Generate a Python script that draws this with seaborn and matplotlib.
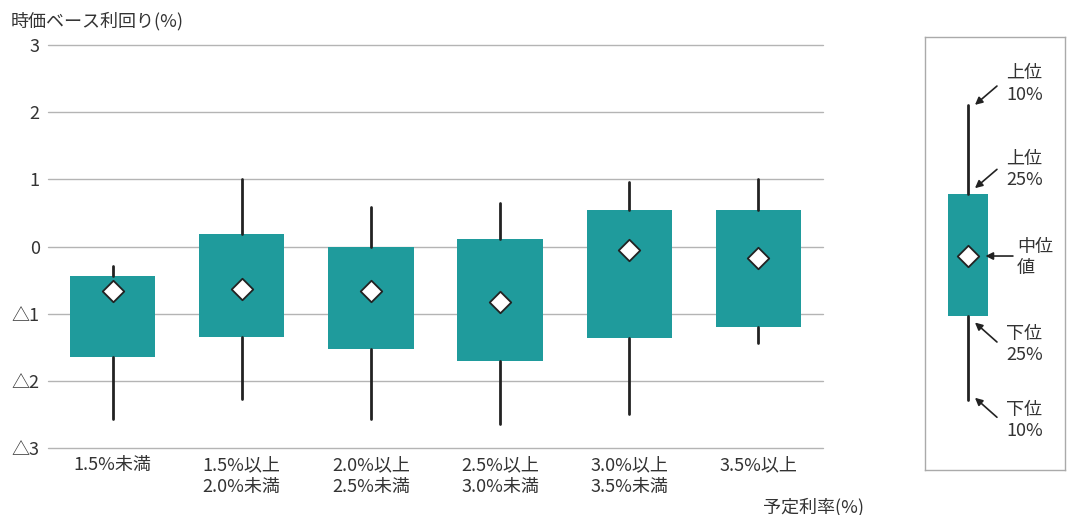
import numpy as np
import matplotlib
matplotlib.use("Agg")
import matplotlib.pyplot as plt
import seaborn as sns

# Yield distribution by assumed interest rate band
categories = ["1.5%未満", "1.5%以上\n2.0%未満", "2.0%以上\n2.5%未満",
              "2.5%以上\n3.0%未満", "3.0%以上\n3.5%未満", "3.5%以上"]
p10 = [-2.57, -2.27, -2.57, -2.64, -2.49, -1.43]
p25 = [-1.64, -1.35, -1.53, -1.70, -1.36, -1.20]
median = [-0.66, -0.63, -0.66, -0.83, -0.05, -0.17]
p75 = [-0.44, 0.18, -0.01, 0.11, 0.54, 0.54]
p90 = [-0.29, 1.00, 0.59, 0.65, 0.96, 1.00]

y_ticks = [3, 2, 1, 0, -1, -2, -3]
y_tick_labels = ["3", "2", "1", "0", "△1", "△2", "△3"]

# Explanatory sample box for the key panel
key_stats = dict(whislo=-2.14, q1=-0.90, med=0.0, q3=0.93, whishi=2.25)
key_labels = ["上位\n10%", "上位\n25%", "中位\n値", "下位\n25%", "下位\n10%"]

TEAL = "#1f9b9c"
INK = "#222222"
TEXT = "#333333"
GRID = "#b4b4b4"
FS = 13

sns.set_theme(style="white")
plt.rcParams["font.family"] = ["Noto Sans CJK JP", "DejaVu Sans"]
plt.rcParams["font.size"] = FS

W, H = 1067, 515
fig = plt.figure(figsize=(W / 100, H / 100), dpi=100)

# ---- main chart ----
ax = fig.add_axes([48 / W, 67 / H, 775 / W, 403 / H])
pos = np.arange(len(categories))
stats = [dict(whislo=a, q1=b, med=c, q3=d, whishi=e)
         for a, b, c, d, e in zip(p10, p25, median, p75, p90)]
ax.bxp(stats, positions=pos, widths=0.66, patch_artist=True,
       showfliers=False, showcaps=False, manage_ticks=False,
       boxprops=dict(facecolor=TEAL, edgecolor="none", linewidth=0),
       whiskerprops=dict(color=INK, linewidth=2),
       medianprops=dict(visible=False))
sns.scatterplot(x=pos, y=median, marker="D", s=120, color="white",
                edgecolor=INK, linewidth=1.3, ax=ax, zorder=5, legend=False)

ax.set_xlim(-0.5, len(categories) - 0.5)
ax.set_ylim(-3, 3)
ax.set_yticks(y_ticks)
ax.set_yticklabels(y_tick_labels)
ax.set_xticks(pos)
ax.set_xticklabels(categories)
for t in ax.get_xticklabels():
    t.set_linespacing(1.25)
ax.tick_params(axis="x", length=0, pad=6, labelsize=FS, colors=TEXT)
ax.tick_params(axis="y", length=0, pad=6, labelsize=FS, colors=TEXT)
ax.grid(axis="y", color=GRID, linewidth=1)
ax.grid(axis="x", visible=False)
for gl in ax.get_ygridlines():
    gl.set_clip_on(False)
ax.set_axisbelow(True)
for s in ax.spines.values():
    s.set_visible(False)
ax.set_xlabel("")
ax.set_ylabel("")

fig.text(11 / W, 1 - 21 / H, "時価ベース利回り(%)", ha="left", va="center",
         fontsize=FS, color=TEXT)
fig.text(864 / W, 1 - 507 / H, "予定利率(%)", ha="right", va="center",
         fontsize=FS, color=TEXT)

# ---- key panel ----
kx = fig.add_axes([925 / W, 45 / H, 140 / W, 433 / H])
kx.bxp([key_stats], positions=[0], widths=0.28, patch_artist=True,
       showfliers=False, showcaps=False, manage_ticks=False,
       boxprops=dict(facecolor=TEAL, edgecolor="none", linewidth=0),
       whiskerprops=dict(color=INK, linewidth=2),
       medianprops=dict(visible=False))
sns.scatterplot(x=[0], y=[key_stats["med"]], marker="D", s=120, color="white",
                edgecolor=INK, linewidth=1.3, ax=kx, zorder=5, legend=False)
kx.set_xlim(-0.307, 0.693)
kx.set_ylim(-3.185, 3.26)
kx.set_xticks([])
kx.set_yticks([])
kx.grid(False)
for s in kx.spines.values():
    s.set_visible(True)
    s.set_color("#aaaaaa")
    s.set_linewidth(1)

tips = [(0.05, key_stats["whishi"]), (0.05, key_stats["q3"] + 0.08),
        (0.125, key_stats["med"]), (0.05, key_stats["q1"] - 0.09),
        (0.05, key_stats["whislo"] + 0.03)]
tails = [(0.207, 2.53), (0.207, 1.29), (0.321, 0.0), (0.207, -1.28), (0.207, -2.40)]
text_pos = [(0.271, 2.56), (0.271, 1.29), (0.35, -0.02), (0.271, -1.32), (0.271, -2.45)]
for lab, tip, tail, tp in zip(key_labels, tips, tails, text_pos):
    kx.annotate("", xy=tip, xytext=tail,
                arrowprops=dict(arrowstyle="-|>", color=INK, lw=1.2,
                                mutation_scale=11, shrinkA=0, shrinkB=0))
    kx.text(tp[0], tp[1], lab, ha="left", va="center", fontsize=FS,
            color=TEXT, linespacing=1.25)

fig.savefig("out.png", dpi=100, facecolor="white")
